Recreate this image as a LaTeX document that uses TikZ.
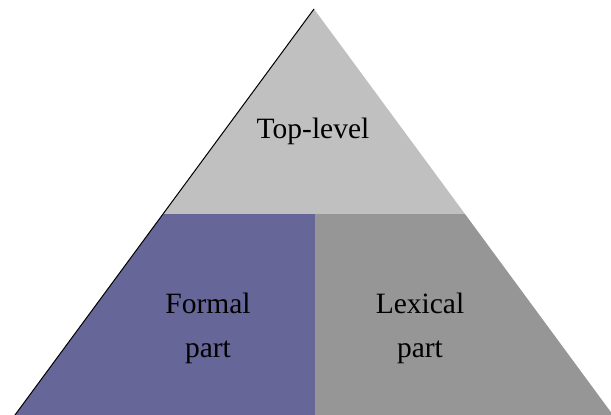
\documentclass[tikz,border=0pt]{standalone}
\usepackage{fontspec}
\setmainfont{Liberation Serif}
\definecolor{toplevel}{HTML}{C0C0C0}
\definecolor{formal}{HTML}{666699}
\definecolor{lexical}{HTML}{969696}
\begin{document}
\begin{tikzpicture}[x=1pt,y=-1pt,
  label text/.style={font=\fontsize{29.5}{44}\selectfont, align=center, inner sep=0pt, anchor=base}]
\useasboundingbox (0,0) rectangle (611,415);
\begin{scope}
\clip (0,0) rectangle (611,415);
% corner points of the pyramid and its tier boundaries
\coordinate (apex) at (314,9);
\coordinate (bl) at (15,415);
\coordinate (br) at (613,415);
\coordinate (ml) at (163,214);
\coordinate (mr) at (465,214);
\coordinate (mc) at (315,214);
\coordinate (bc) at (315,415);
% tiers
\fill[toplevel] (apex) -- (mr) -- (ml) -- cycle;
\fill[formal] (ml) -- (mc) -- (bc) -- (bl) -- cycle;
\fill[lexical] (mc) -- (mr) -- (br) -- (bc) -- cycle;
% outline on the left side
\draw[black, line width=1pt] (apex) -- (bl);
\end{scope}
\node[label text] (top) at (313,138) {Top-level};
\node[label text] (formalpart) at (208,357) {Formal\\part};
\node[label text] (lexicalpart) at (420,357) {Lexical\\part};
\end{tikzpicture}
\end{document}
